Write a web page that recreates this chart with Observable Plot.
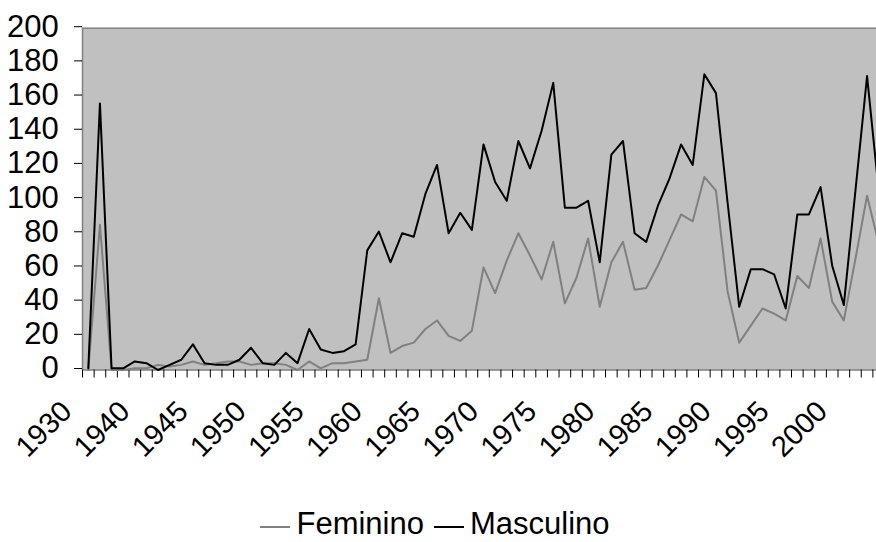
<!DOCTYPE html>
<html><head><meta charset="utf-8">
<script src="https://cdn.jsdelivr.net/npm/d3@7"></script>
<script src="https://cdn.jsdelivr.net/npm/@observablehq/plot@0.6"></script>
<style>
html,body{margin:0;padding:0;background:#fff;overflow:hidden;width:876px;height:542px}
#chart svg{max-width:none !important;overflow:hidden;display:block}
#legend{position:absolute;left:-3px;top:510px;width:876px;text-align:center;font:31px/28px "Liberation Sans",Arial,sans-serif;color:#000;white-space:nowrap}
.sw{display:inline-block;width:30px;height:2px;vertical-align:6px}
</style></head><body>
<div id="chart"></div>
<div id="legend"></div>
<script>
const years = ["1930","1936","1937","1938","1939","1940","1941","1942","1943","1944","1945","1946","1947","1948","1949","1950","1951","1952","1953","1954","1955","1956","1957","1958","1959","1960","1961","1962","1963","1964","1965","1966","1967","1968","1969","1970","1971","1972","1973","1974","1975","1976","1977","1978","1979","1980","1981","1982","1983","1984","1985","1986","1987","1988","1989","1990","1991","1992","1993","1994","1995","1996","1997","1998","1999","2000","2001","2002","2003"];
const feminino = [0,85,0,0,1,1,3,2,3,5,3,4,5,5,3,4,4,3,0,5,1,4,4,5,6,42,10,14,16,24,29,20,17,23,60,45,64,80,67,53,75,39,54,77,37,63,75,47,48,61,76,91,87,113,105,46,16,26,36,33,29,55,48,77,40,29,65,102,74];
const masculino = [1,156,1,1,5,4,0,3,6,15,4,3,3,6,13,4,3,10,4,24,12,10,11,15,70,81,63,80,78,103,120,80,92,82,132,110,99,134,118,140,168,95,95,99,63,126,134,80,75,96,112,132,120,173,162,98,37,59,59,56,36,91,91,107,61,38,105,172,105];
const yTicks = [0,20,40,60,80,100,120,140,160,180,200];
const seriesNames = ["Feminino","Masculino"];
const seriesColors = ["#808080","#000000"];

const femData = years.map((y,i)=>({i, v: feminino[i]}));
const mascData = years.map((y,i)=>({i, v: masculino[i]}));
const labelData = years.map((y,i)=>({i, year: y})).filter(d => d.i % 5 === 0);

const chart = Plot.plot({
  width: 884, height: 505,
  marginLeft: 82, marginRight: 0, marginTop: 27.7, marginBottom: 135.5,
  style: {fontFamily: "'Liberation Sans', Arial, sans-serif", fontSize: "29px", color: "black", background: "white", overflow: "hidden"},
  x: {domain: [0, years.length]},
  y: {domain: [0, 200]},
  marks: [
    Plot.frame({fill: "#c0c0c0", stroke: "#808080", strokeWidth: 1.5}),
    Plot.axisY({ticks: yTicks, tickSize: 8, tickPadding: 15.7, fontSize: 31, dy: -1.5, label: null}),
    Plot.axisX({ticks: d3.range(years.length + 1), tickSize: 8, tickFormat: () => "", label: null}),
    Plot.line(femData, {x: d => d.i + 0.5, y: "v", stroke: seriesColors[0], strokeWidth: 2}),
    Plot.line(mascData, {x: d => d.i + 0.5, y: "v", stroke: seriesColors[1], strokeWidth: 2}),
    Plot.text(labelData, {x: d => d.i + 0.5, text: "year", frameAnchor: "bottom", rotate: -45, textAnchor: "end", lineAnchor: "bottom", dx: -15, dy: 43, fontSize: 29, fill: "black"})
  ]
});
document.getElementById("chart").appendChild(chart);

const legend = document.getElementById("legend");
seriesNames.forEach((name, k) => {
  const sw = document.createElement("span");
  sw.className = "sw";
  sw.style.background = seriesColors[k];
  sw.style.marginRight = "6px";
  if (k > 0) sw.style.marginLeft = "10px";
  legend.appendChild(sw);
  legend.appendChild(document.createTextNode(name));
});
</script>
</body></html>
